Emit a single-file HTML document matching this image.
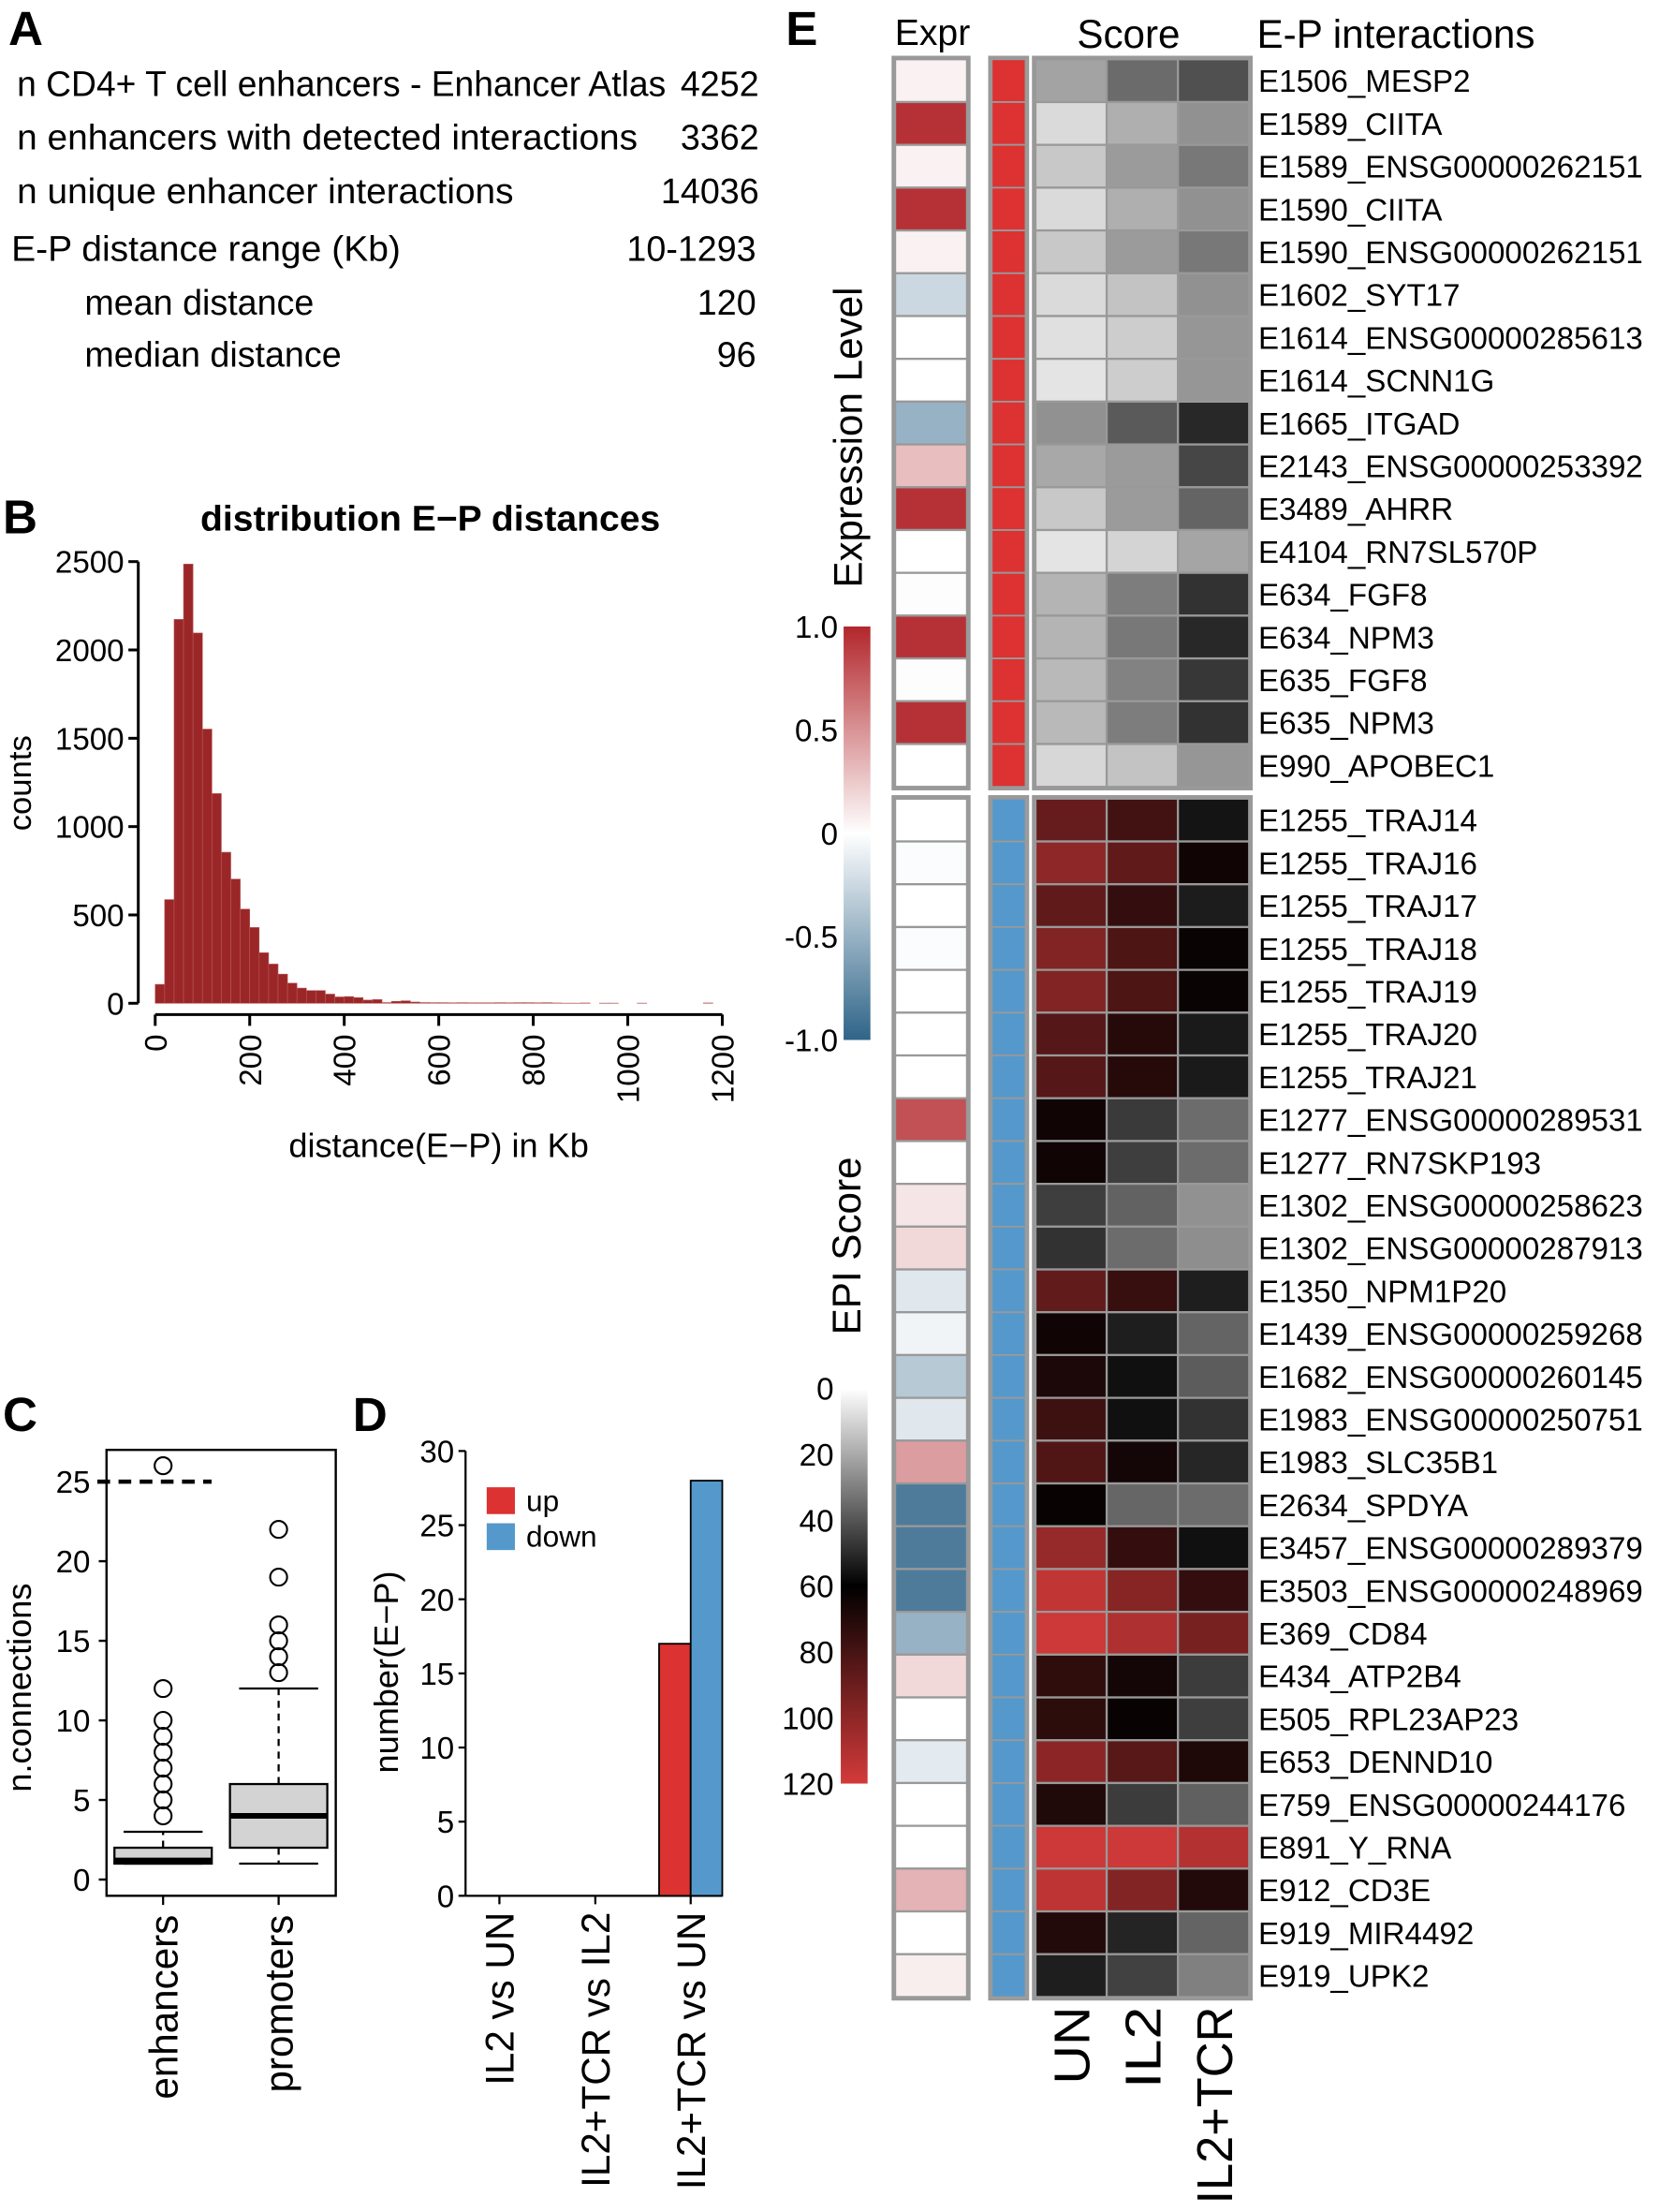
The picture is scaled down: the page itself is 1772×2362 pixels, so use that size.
<!DOCTYPE html>
<html><head><meta charset="utf-8"><style>
html,body{margin:0;padding:0;background:#fff}
svg{display:block}
text{font-family:"Liberation Sans",Arial,sans-serif;fill:#000}
</style></head><body>
<svg id="fig" xmlns="http://www.w3.org/2000/svg" width="1772" height="2362" viewBox="0 0 1176 1567.6">
<g id="panelA" font-size="25">
  <text x="6" y="32" font-size="34" font-weight="bold">A</text>
  <text x="12" y="68" textLength="460" lengthAdjust="spacingAndGlyphs">n CD4+ T cell enhancers - Enhancer Atlas</text>
  <text x="538" y="68" text-anchor="end">4252</text>
  <text x="12" y="106" textLength="440" lengthAdjust="spacingAndGlyphs">n enhancers with detected interactions</text>
  <text x="538" y="106" text-anchor="end">3362</text>
  <text x="12" y="144" textLength="352" lengthAdjust="spacingAndGlyphs">n unique enhancer interactions</text>
  <text x="538" y="144" text-anchor="end">14036</text>
  <text x="8" y="185" textLength="276" lengthAdjust="spacingAndGlyphs">E-P distance range (Kb)</text>
  <text x="536" y="185" text-anchor="end">10-1293</text>
  <text x="60" y="223">mean distance</text>
  <text x="536" y="223" text-anchor="end">120</text>
  <text x="60" y="260">median distance</text>
  <text x="536" y="260" text-anchor="end">96</text>
</g>
<g id="panelB">
  <text x="2" y="378" font-size="34" font-weight="bold">B</text>
  <text x="305" y="376" font-size="25" font-weight="bold" text-anchor="middle" textLength="326" lengthAdjust="spacingAndGlyphs">distribution E−P distances</text>
  <text transform="translate(22,555) rotate(-90)" font-size="23" text-anchor="middle">counts</text>
  <text x="311" y="820" font-size="24" text-anchor="middle">distance(E−P) in Kb</text>
  <g id="histBars"></g><g id="histAxes"></g>
</g>
<g id="panelC">
  <text x="2" y="1014" font-size="34" font-weight="bold">C</text>
  <text transform="translate(22,1196) rotate(-90)" font-size="24" text-anchor="middle">n.connections</text>
  <g id="boxG"></g>
</g>
<g id="panelD">
  <text x="250" y="1014" font-size="34" font-weight="bold">D</text>
  <text transform="translate(282,1185) rotate(-90)" font-size="24" text-anchor="middle">number(E−P)</text>
  <g id="barG"></g>
</g>
<g id="panelE">
  <text x="557" y="32" font-size="34" font-weight="bold">E</text>
  <text x="661" y="32" font-size="26" text-anchor="middle">Expr</text>
  <text x="800" y="34" font-size="28" text-anchor="middle">Score</text>
  <text x="891" y="34" font-size="28">E-P interactions</text>
  <text transform="translate(611,310) rotate(-90)" font-size="28" text-anchor="middle">Expression Level</text>
  <text transform="translate(610,883) rotate(-90)" font-size="28" text-anchor="middle">EPI Score</text>
  <g id="heatG"></g>
</g>
<defs>
  <linearGradient id="exprGrad" x1="0" y1="0" x2="0" y2="1">
    <stop offset="0" stop-color="#b2262b"/><stop offset="0.5" stop-color="#ffffff"/><stop offset="1" stop-color="#2f6488"/>
  </linearGradient>
  <linearGradient id="epiGrad" x1="0" y1="0" x2="0" y2="1">
    <stop offset="0" stop-color="#ffffff"/><stop offset="0.5" stop-color="#000000"/><stop offset="1" stop-color="#d43a3a"/>
  </linearGradient>
</defs>
</svg>
<script>
// ---------- data ----------
const histBinWidth = 20;
const histCounts = [107,587,2173,2486,2096,1552,1187,855,703,533,429,286,222,165,114,86,72,72,52,36,38,32,18,21,5,11,14,7,5,4,4,3,4,3,3,3,4,3,4,4,3,4,2,1,1,2,0,1,1,0,0,1,0,0,0,0,0,0,2,0];
const histYTicks = [0,500,1000,1500,2000,2500];
const histXTicks = [0,200,400,600,800,1000,1200];

const boxCats = ["enhancers","promoters"];
const boxLow = [1,1], boxQ1 = [1,2], boxMed = [1.2,4], boxQ3 = [2,6], boxHigh = [3,12];
const boxOutliers = [[4,5,6,7,8,9,10,12,26],[13,14,15,16,19,22]];
const boxYTicks = [0,5,10,15,20,25];
const boxThreshold = 25;

const barCats = ["IL2 vs UN","IL2+TCR vs IL2","IL2+TCR vs UN"];
const barUp = [0,0,17];
const barDown = [0,0,28];
const barYTicks = [0,5,10,15,20,25,30];

const topLabels = ["E1506_MESP2","E1589_CIITA","E1589_ENSG00000262151","E1590_CIITA","E1590_ENSG00000262151","E1602_SYT17","E1614_ENSG00000285613","E1614_SCNN1G","E1665_ITGAD","E2143_ENSG00000253392","E3489_AHRR","E4104_RN7SL570P","E634_FGF8","E634_NPM3","E635_FGF8","E635_NPM3","E990_APOBEC1"];
const topExpr = [0.06,0.95,0.06,0.95,0.06,-0.25,0,0,-0.5,0.3,0.95,0,-0.01,0.95,-0.01,0.95,0];
const topUN = [21.6,8.7,12.9,8.7,12.9,8.7,7.3,6.4,25.9,20.5,12.9,6.4,17.6,17.6,16.5,16.5,9.4];
const topIL2 = [34.9,18.8,23.5,18.8,23.5,14.1,11.8,11.8,38.8,23.5,23.5,10.1,30.6,31.8,29.4,30.6,14.1];
const topTCR = [41.2,25.9,31.8,25.9,31.8,25.9,24.7,24.7,50.6,43.5,36.5,21.2,48.2,50.6,47.1,48.2,24.7];

const botLabels = ["E1255_TRAJ14","E1255_TRAJ16","E1255_TRAJ17","E1255_TRAJ18","E1255_TRAJ19","E1255_TRAJ20","E1255_TRAJ21","E1277_ENSG00000289531","E1277_RN7SKP193","E1302_ENSG00000258623","E1302_ENSG00000287913","E1350_NPM1P20","E1439_ENSG00000259268","E1682_ENSG00000260145","E1983_ENSG00000250751","E1983_SLC35B1","E2634_SPDYA","E3457_ENSG00000289379","E3503_ENSG00000248969","E369_CD84","E434_ATP2B4","E505_RPL23AP23","E653_DENND10","E759_ENSG00000244176","E891_Y_RNA","E912_CD3E","E919_MIR4492","E919_UPK2"];
const botExpr = [0,-0.02,0,-0.02,0,0,0,0.8,0,0.12,0.18,-0.15,-0.07,-0.35,-0.15,0.45,-0.85,-0.85,-0.85,-0.5,0.18,0,-0.13,0,0,0.35,0,0.08];
const botUN = [88.9,100.2,87.2,96.8,96.8,84,84,64.5,64.5,45.4,48.2,87.7,64.5,67.9,77.5,82.6,62.3,102.5,115,118,73.6,72.7,99.6,69,118,113.8,69.9,53];
const botIL2 = [78.7,87.2,74.7,82.1,82.1,70.8,70.8,46.4,45.4,37,34.6,75.6,53,56.2,56.2,65.7,36,74.7,98.2,109.5,65.7,62.3,84.9,45.9,118,96.8,51.5,44.7];
const botTCR = [55.3,64.5,53.4,62.8,62.8,53.9,53.9,34.6,34.6,25.9,26.6,53,36.5,38.4,48.2,51,34.6,56.2,74.7,94,45.9,45.4,68.5,37.4,111,69.9,36.5,29.9];

const exprTicks = [1.0,0.5,0,-0.5,-1.0];
const exprTickLabels = ["1.0","0.5","0","-0.5","-1.0"];
const epiTicks = [0,20,40,60,80,100,120];

// ---------- helpers ----------
const NS = "http://www.w3.org/2000/svg";
function mk(parent, tag, attrs, txt){
  const e = document.createElementNS(NS, tag);
  for (const k in attrs) e.setAttribute(k, attrs[k]);
  if (txt !== undefined) e.textContent = txt;
  parent.appendChild(e);
  return e;
}
function lerp(a,b,t){return Math.round(a+(b-a)*t);}
function exprColor(v){
  v = Math.max(-1, Math.min(1, v));
  if (v >= 0) return `rgb(${lerp(255,178,v)},${lerp(255,38,v)},${lerp(255,43,v)})`;
  const t = -v; return `rgb(${lerp(255,47,t)},${lerp(255,100,t)},${lerp(255,136,t)})`;
}
function epiColor(s){
  if (s <= 60){ const g = lerp(255,0,s/60); return `rgb(${g},${g},${g})`; }
  const t = Math.min(1,(s-60)/60); return `rgb(${lerp(0,212,t)},${lerp(0,58,t)},${lerp(0,58,t)})`;
}

// ---------- panel B histogram ----------
(function(){
  const hb = document.getElementById('histBars'), ha = document.getElementById('histAxes');
  const xS = v => 110 + v*(512-110)/1200;
  const yS = v => 711 - v*(711-398)/2500;
  histCounts.forEach((c,i)=>{
    if (c<=0) return;
    const x0 = xS(i*histBinWidth), x1 = xS((i+1)*histBinWidth);
    const r = mk(hb,'rect',{x:x0,y:yS(c),width:x1-x0,height:yS(0)-yS(c),fill: c<6 ? '#d89a9a' : '#9b2628',stroke:'#b85a5a','stroke-width':0.4});
    
    
  });
  const yl = mk(ha,'line',{x1:98,x2:98,y1:yS(0),y2:yS(2500),stroke:'#000','stroke-width':2});
   
  histYTicks.forEach(t=>{
    mk(ha,'line',{x1:91,x2:98,y1:yS(t),y2:yS(t),stroke:'#000','stroke-width':2});
    const tx = mk(ha,'text',{x:88,y:yS(t)+8,'font-size':22,'text-anchor':'end'},String(t));
     
  });
  const xl = mk(ha,'line',{x1:xS(0),x2:xS(1200),y1:719,y2:719,stroke:'#000','stroke-width':2});
   
  histXTicks.forEach(t=>{
    mk(ha,'line',{x1:xS(t),x2:xS(t),y1:719,y2:727,stroke:'#000','stroke-width':2});
    const tx = mk(ha,'text',{transform:`translate(${xS(t)+8},733) rotate(-90)`,'font-size':22,'text-anchor':'end'},String(t));
     
  });
})();

// ---------- panel C boxplot ----------
(function(){
  const g = document.getElementById('boxG');
  const yS = v => 1332 - v*(1332-1050)/25;
  const cx = [115.6,197.5], hw = 34.5, cap = 28;
  const fr = mk(g,'rect',{x:75.5,y:1027.5,width:162.5,height:316,fill:'none',stroke:'#000','stroke-width':1.6});
   
  boxYTicks.forEach(t=>{
    mk(g,'line',{x1:70,x2:75.5,y1:yS(t),y2:yS(t),stroke:'#000','stroke-width':1.6});
    const tx = mk(g,'text',{x:64,y:yS(t)+8,'font-size':22,'text-anchor':'end'},String(t));
     
  });
  const th = mk(g,'line',{x1:69,x2:150,y1:yS(boxThreshold),y2:yS(boxThreshold),stroke:'#000','stroke-width':3,'stroke-dasharray':'9,6'});
   
  boxCats.forEach((c,i)=>{
    const x = cx[i];
    if (boxHigh[i] > boxQ3[i]) mk(g,'line',{x1:x,x2:x,y1:yS(boxQ3[i]),y2:yS(boxHigh[i]),stroke:'#000','stroke-width':1.5,'stroke-dasharray':'5,4'});
    if (boxLow[i] < boxQ1[i]) mk(g,'line',{x1:x,x2:x,y1:yS(boxQ1[i]),y2:yS(boxLow[i]),stroke:'#000','stroke-width':1.5,'stroke-dasharray':'5,4'});
    mk(g,'line',{x1:x-cap,x2:x+cap,y1:yS(boxHigh[i]),y2:yS(boxHigh[i]),stroke:'#000','stroke-width':1.5});
    mk(g,'line',{x1:x-cap,x2:x+cap,y1:yS(boxLow[i]),y2:yS(boxLow[i]),stroke:'#000','stroke-width':1.5});
    const b = mk(g,'rect',{x:x-hw,y:yS(boxQ3[i]),width:2*hw,height:yS(boxQ1[i])-yS(boxQ3[i]),fill:'#d3d3d3',stroke:'#000','stroke-width':1.5});
     
    mk(g,'line',{x1:x-hw,x2:x+hw,y1:yS(boxMed[i]),y2:yS(boxMed[i]),stroke:'#000','stroke-width':4});
    boxOutliers[i].forEach(o=>{
      const ci = mk(g,'circle',{cx:x,cy:yS(o),r:6,fill:'none',stroke:'#000','stroke-width':1.4});
       
    });
    mk(g,'line',{x1:x,x2:x,y1:1343.5,y2:1350,stroke:'#000','stroke-width':1.5});
    const tx = mk(g,'text',{transform:`translate(${x+10},1357) rotate(-90)`,'font-size':28,'text-anchor':'end'},c);
     
  });
})();

// ---------- panel D bars ----------
(function(){
  const g = document.getElementById('barG');
  const yS = v => 1343.5 - v*(1343.5-1028.3)/30;
  const cx = [354,422,489.6], bw = 22.4;
  mk(g,'line',{x1:330,x2:330,y1:yS(0),y2:yS(30),stroke:'#000','stroke-width':1.5});
  mk(g,'line',{x1:330,x2:512,y1:yS(0),y2:yS(0),stroke:'#000','stroke-width':1.5});
  barYTicks.forEach(t=>{
    mk(g,'line',{x1:325,x2:330,y1:yS(t),y2:yS(t),stroke:'#000','stroke-width':1.5});
    const tx = mk(g,'text',{x:322,y:yS(t)+8,'font-size':22,'text-anchor':'end'},String(t));
     
  });
  barCats.forEach((c,i)=>{
    const x = cx[i];
    if (barUp[i]>0){ const r = mk(g,'rect',{x:x-bw,y:yS(barUp[i]),width:bw,height:yS(0)-yS(barUp[i]),fill:'#dc3232',stroke:'#000','stroke-width':1.2});
        }
    if (barDown[i]>0){ const r = mk(g,'rect',{x:x,y:yS(barDown[i]),width:bw,height:yS(0)-yS(barDown[i]),fill:'#5599cc',stroke:'#000','stroke-width':1.2});
        }
    mk(g,'line',{x1:x,x2:x,y1:yS(0),y2:yS(0)+6,stroke:'#000','stroke-width':1.5});
    const tx = mk(g,'text',{transform:`translate(${x+10},1355) rotate(-90)`,'font-size':28,'text-anchor':'end'},c);
     
  });
  const l1 = mk(g,'rect',{x:345,y:1054,width:20,height:19,fill:'#dc3232'});
   
  const l2 = mk(g,'rect',{x:345,y:1079.5,width:20,height:19,fill:'#5599cc'});
   
  const t1 = mk(g,'text',{x:373,y:1071,'font-size':21},'up');
   
  const t2 = mk(g,'text',{x:373,y:1096,'font-size':21},'down');
   
})();

// ---------- panel E heatmap ----------
(function(){
  const g = document.getElementById('heatG');
  const pitch = 30.33;
  const cols = {expr:[634.5,685.5], grp:[703,727], sc:[[734,784.5],[784.5,835],[835,885.5]]};
  function group(top, labels, expr, un, il2, tcr, grpColor, gname){
    const n = labels.length, h = n*pitch;
    mk(g,'rect',{x:cols.expr[0]-1.5,y:top-1.5,width:cols.expr[1]-cols.expr[0]+3,height:h+3,fill:'none',stroke:'#999','stroke-width':2});
    mk(g,'rect',{x:cols.grp[0]-1.5,y:top-1.5,width:cols.grp[1]-cols.grp[0]+3,height:h+3,fill:'none',stroke:'#999','stroke-width':2});
    mk(g,'rect',{x:cols.sc[0][0]-1.5,y:top-1.5,width:cols.sc[2][1]-cols.sc[0][0]+3,height:h+3,fill:'none',stroke:'#999','stroke-width':2});
    labels.forEach((lab,i)=>{
      const y = top + i*pitch;
      const e = mk(g,'rect',{x:cols.expr[0],y:y,width:cols.expr[1]-cols.expr[0],height:pitch,fill:exprColor(expr[i]),stroke:'#999','stroke-width':1.5});
       
      const gr = mk(g,'rect',{x:cols.grp[0],y:y,width:cols.grp[1]-cols.grp[0],height:pitch,fill:grpColor,stroke:'#999','stroke-width':1.2});
       
      [un,il2,tcr].forEach((arr,j)=>{
        const c = mk(g,'rect',{x:cols.sc[j][0],y:y,width:cols.sc[j][1]-cols.sc[j][0],height:pitch,fill:epiColor(arr[i]),stroke:'#999','stroke-width':1.5});
         
      });
      const t = mk(g,'text',{x:892,y:y+pitch/2+8,'font-size':22},lab);
       
    });
  }
  group(42, topLabels, topExpr, topUN, topIL2, topTCR, '#dc3232', 'up');
  group(566, botLabels, botExpr, botUN, botIL2, botTCR, '#5599cc', 'down');
  const condLen = [55, 58, 140];
  ["UN","IL2","IL2+TCR"].forEach((c,j)=>{
    const x = (cols.sc[j][0]+cols.sc[j][1])/2;
    const t = mk(g,'text',{transform:`translate(${x+13},1422) rotate(-90)`,'font-size':36,'text-anchor':'end',textLength:condLen[j],lengthAdjust:'spacingAndGlyphs'},c);
     
  });
  // expression colorbar
  const eTop = 444, eBot = 737;
  const cb = mk(g,'rect',{x:598,y:eTop,width:19,height:eBot-eTop,fill:'url(#exprGrad)'});
   
  exprTicks.forEach((v,i)=>{
    const y = eTop + (1-v)/2*(eBot-eTop);
    const t = mk(g,'text',{x:594,y:y+8,'font-size':22,'text-anchor':'end'},exprTickLabels[i]);
     
  });
  // EPI colorbar
  const sTop = 984, sBot = 1264;
  const sb = mk(g,'rect',{x:596,y:sTop,width:19,height:sBot-sTop,fill:'url(#epiGrad)'});
   
  epiTicks.forEach(v=>{
    const y = sTop + v/120*(sBot-sTop);
    const t = mk(g,'text',{x:591,y:y+8,'font-size':22,'text-anchor':'end'},String(v));
     
  });
})();
</script>
</body></html>
